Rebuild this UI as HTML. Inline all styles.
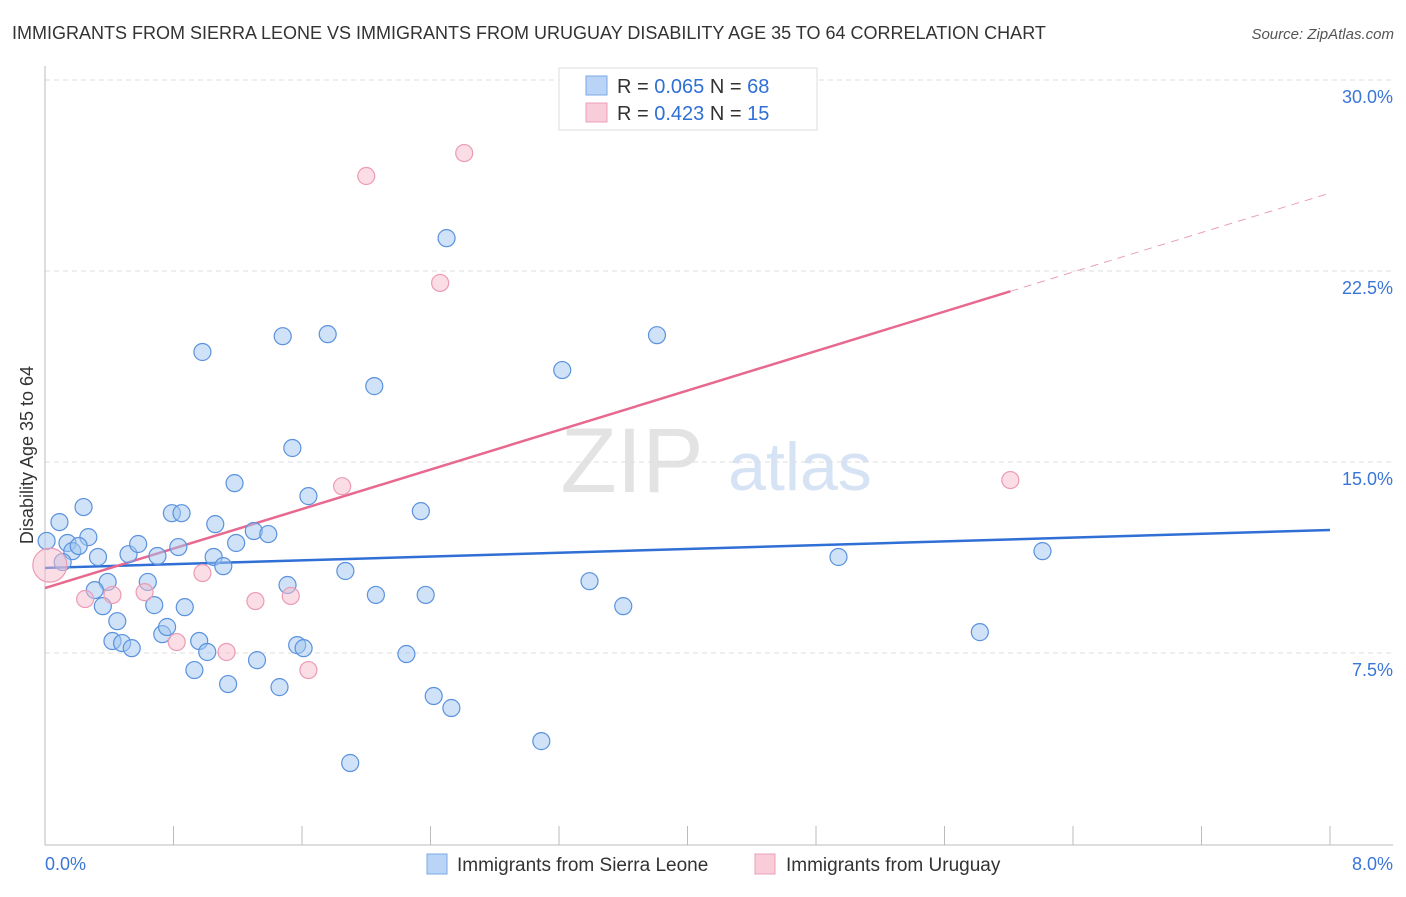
<!DOCTYPE html>
<html><head><meta charset="utf-8"><style>
body{margin:0;background:#fff;font-family:"Liberation Sans",sans-serif}
svg text{font-family:"Liberation Sans",sans-serif}
</style></head><body>
<svg id="chart" width="1406" height="892" xmlns="http://www.w3.org/2000/svg">
<text x="12" y="39" font-size="18" fill="#333">IMMIGRANTS FROM SIERRA LEONE VS IMMIGRANTS FROM URUGUAY DISABILITY AGE 35 TO 64 CORRELATION CHART</text>
<text x="1394" y="39" font-size="15" fill="#555" font-style="italic" text-anchor="end">Source: ZipAtlas.com</text>
<text x="632" y="492" font-size="92" fill="#e3e3e3" font-family="Liberation Serif" text-anchor="middle">ZIP</text>
<text x="800" y="490" font-size="68" fill="#d5e3f5" text-anchor="middle">atlas</text>
<g id="grid"></g><g id="axes"></g><g id="trends"></g><g id="pts"></g>
<text transform="translate(33,455) rotate(-90)" font-size="18" fill="#333" text-anchor="middle">Disability Age 35 to 64</text>
<g>
<rect x="559" y="68" width="258" height="62" fill="#fff" stroke="#ddd"/>
<rect x="586" y="76" width="21" height="19" fill="#b9d4f7" stroke="#7aa8e6"/>
<rect x="586" y="103" width="21" height="19" fill="#f9ccd9" stroke="#eba0b6"/>
<text x="617" y="93" font-size="20" fill="#333">R = <tspan fill="#2f6fd6">0.065</tspan>   N = <tspan fill="#2f6fd6">68</tspan></text>
<text x="617" y="120" font-size="20" fill="#333">R = <tspan fill="#2f6fd6">0.423</tspan>   N = <tspan fill="#2f6fd6"> 15</tspan></text>
</g>
<g>
<rect x="427" y="854" width="20" height="20" fill="#b9d4f7" stroke="#7aa8e6"/>
<text x="457" y="871" font-size="19" fill="#333">Immigrants from Sierra Leone</text>
<rect x="755" y="854" width="20" height="20" fill="#f9ccd9" stroke="#eba0b6"/>
<text x="786" y="871" font-size="19" fill="#333">Immigrants from Uruguay</text>
</g>
</svg>
<script>
const blueX=[0.01,0.09,0.24,0.27,0.14,0.17,0.21,0.11,0.33,0.39,0.31,0.36,0.45,0.42,0.48,0.54,0.52,0.58,0.64,0.70,0.68,0.73,0.76,0.79,0.85,0.83,0.87,0.93,0.96,1.01,0.98,1.06,1.05,1.11,1.18,1.19,1.14,1.30,1.39,1.32,1.46,1.48,1.54,1.64,1.51,1.57,1.61,1.76,1.87,2.05,2.06,1.90,2.25,2.34,2.37,2.42,2.53,2.50,3.09,3.22,3.39,3.60,3.81,4.94,5.82,6.21];
const blueY=[11.90,12.64,13.23,12.05,11.82,11.50,11.70,11.07,11.27,10.29,9.97,9.34,8.75,7.97,7.89,7.69,11.38,11.78,10.29,11.31,9.38,8.24,8.52,12.99,12.99,11.66,9.30,6.83,7.97,7.54,19.32,12.56,11.27,10.91,14.17,11.82,6.28,12.29,12.17,7.22,6.16,19.94,15.55,13.66,10.17,7.81,7.69,20.02,10.72,17.98,9.78,3.18,7.46,13.07,9.78,5.81,5.34,23.79,4.04,18.61,10.32,9.34,19.98,11.27,8.32,11.50];
const pinkX=[0.03,0.25,0.42,0.62,0.82,0.98,1.13,1.31,1.53,1.64,1.85,2.00,2.46,2.61,6.01];
const pinkY=[10.95,9.62,9.78,9.89,7.93,10.64,7.54,9.54,9.74,6.83,14.05,26.23,22.03,27.13,14.29];
const blueTrend=[10.84,12.33];
const pinkTrend=[10.05,25.56];
const pinkSolidEnd=6.01;
const yTicks=[7.5,15,22.5,30];
const xTickCount=10;
const NS="http://www.w3.org/2000/svg";
const X0=45,X1=1330,Y0=844,PX=25.467;
const xs=v=>X0+(X1-X0)*v/8;
const ys=v=>Y0-v*PX;
function mk(t,a,p){const e=document.createElementNS(NS,t);for(const k in a)e.setAttribute(k,a[k]);document.getElementById(p).appendChild(e);return e;}
yTicks.forEach(v=>{
 const l=mk('line',{x1:X0,x2:1393,y1:ys(v),y2:ys(v),stroke:'#ddd','stroke-dasharray':'5,4'},'grid');
 
 
 const t=mk('text',{x:1393,y:ys(v)+23,'font-size':18,fill:'#3a76d8','text-anchor':'end'},'grid');
 t.textContent=v.toFixed(1)+'%';
 
 
});
let ax=mk('line',{x1:X0,x2:X0,y1:66,y2:Y0+1,stroke:'#bbb'},'axes');


ax=mk('line',{x1:X0,x2:1393,y1:Y0+1,y2:Y0+1,stroke:'#bbb'},'axes');


for(let i=1;i<=xTickCount;i++){
 const x=xs(i*0.8);
 const tk=mk('line',{x1:x,x2:x,y1:Y0-18,y2:Y0+1,stroke:'#bbb'},'axes');
 
 
}
let t=mk('text',{x:45,y:870,'font-size':18,fill:'#3a76d8'},'axes');t.textContent='0.0%';


t=mk('text',{x:1393,y:870,'font-size':18,fill:'#3a76d8','text-anchor':'end'},'axes');t.textContent='8.0%';


blueX.forEach((x,i)=>{
 const c=mk('circle',{cx:xs(x),cy:ys(blueY[i]),r:8.5,fill:'rgba(160,197,240,0.5)',stroke:'#5b92de','stroke-width':1.2},'pts');
 
 
});
pinkX.forEach((x,i)=>{
 const c=mk('circle',{cx:xs(x),cy:ys(pinkY[i]),r:i==0?17:8.5,fill:'rgba(247,188,205,0.5)',stroke:'#eb9bb4','stroke-width':1.2},'pts');
 
 
});
const pAt=v=>pinkTrend[0]+(pinkTrend[1]-pinkTrend[0])*v/8;
let l=mk('line',{x1:xs(0),y1:ys(blueTrend[0]),x2:xs(8),y2:ys(blueTrend[1]),stroke:'#2f6fd6','stroke-width':2.5},'trends');


l=mk('line',{x1:xs(0),y1:ys(pinkTrend[0]),x2:xs(pinkSolidEnd),y2:ys(pAt(pinkSolidEnd)),stroke:'#e8698f','stroke-width':2.5},'trends');


l=mk('line',{x1:xs(pinkSolidEnd),y1:ys(pAt(pinkSolidEnd)),x2:xs(8),y2:ys(pinkTrend[1]),stroke:'#e8a0b6','stroke-width':1,'stroke-dasharray':'8,6'},'trends');


</script>
</body></html>
